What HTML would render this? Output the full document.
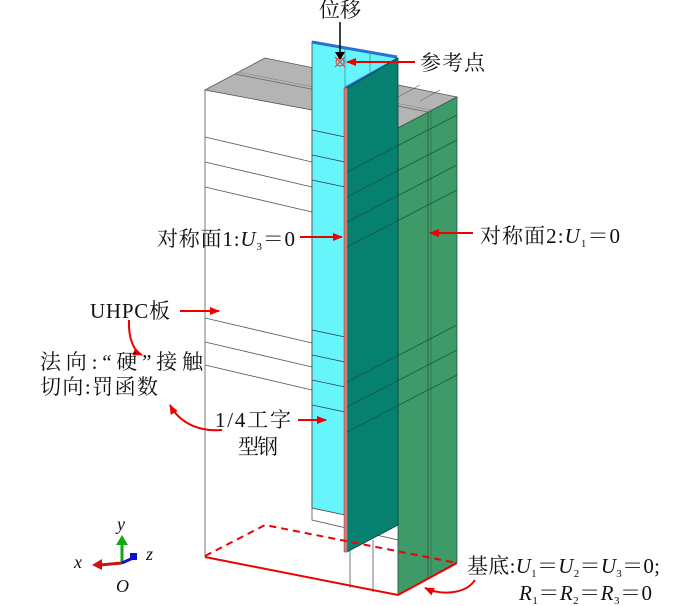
<!DOCTYPE html>
<html><head><meta charset="utf-8"><style>
html,body{margin:0;padding:0;background:#fff;}
svg{display:block;}
text{font-family:"Liberation Serif","Noto Serif CJK SC","Noto Sans CJK SC",serif;fill:#111;}
</style></head><body>
<svg width="700" height="606" viewBox="0 0 700 606" xmlns="http://www.w3.org/2000/svg">
<defs>
<marker id="ar" markerWidth="10" markerHeight="8" refX="9" refY="4" orient="auto" markerUnits="userSpaceOnUse"><path d="M0,0 L10,4 L0,8 Z" fill="#e00"/></marker>
<marker id="ak" markerWidth="8" markerHeight="10" refX="7" refY="5" orient="auto" markerUnits="userSpaceOnUse"><path d="M0,0 L8,5 L0,10 Z" fill="#000"/></marker>
</defs>
<polygon points="205,90 265,58 457,97 398,128" fill="#b4b4b4" stroke="#555" stroke-width="0.8"/>
<line x1="235" y1="74" x2="428" y2="112" stroke="#666" stroke-width="0.8"/>
<line x1="238" y1="72" x2="431" y2="110" stroke="#888" stroke-width="0.6"/>
<line x1="420" y1="85" x2="398" y2="97" stroke="#666" stroke-width="0.6"/>
<line x1="440" y1="90" x2="420" y2="101" stroke="#666" stroke-width="0.6"/>
<polygon points="205,90 312,110 312,520 398,540 398,595 205,557" fill="#fff" stroke="#555" stroke-width="0.8"/>
<g stroke="#555" stroke-width="0.8">
<line x1="205" y1="137" x2="312" y2="162"/>
<line x1="205" y1="162" x2="312" y2="187"/>
<line x1="205" y1="187" x2="312" y2="212"/>
<line x1="205" y1="318" x2="312" y2="343"/>
<line x1="205" y1="342" x2="312" y2="367"/>
<line x1="205" y1="365" x2="312" y2="390"/>
<line x1="350" y1="545" x2="350" y2="588"/>
<line x1="373" y1="540" x2="373" y2="592"/>
</g>
<polygon points="312,42 397,58 397,60 345,88 345,515 312,508" fill="#66f5fb" stroke="#444" stroke-width="0.8"/>
<line x1="312" y1="42" x2="397" y2="57" stroke="#2a70d0" stroke-width="3"/>
<line x1="345" y1="88" x2="397" y2="59" stroke="#2a70d0" stroke-width="2.5"/>
<line x1="345" y1="47" x2="345" y2="88" stroke="#3a8a8a" stroke-width="0.7"/>
<line x1="370" y1="52" x2="370" y2="73" stroke="#3a8a8a" stroke-width="0.7"/>
<g stroke="#336" stroke-width="0.7">
<line x1="312" y1="130" x2="345" y2="137"/>
<line x1="312" y1="155" x2="345" y2="162"/>
<line x1="312" y1="180" x2="345" y2="187"/>
<line x1="312" y1="330" x2="345" y2="337"/>
<line x1="312" y1="355" x2="345" y2="362"/>
<line x1="312" y1="380" x2="345" y2="387"/>
<line x1="312" y1="405" x2="345" y2="412"/>
</g>
<polygon points="398,128 457,97 457,562 398,595" fill="#3f9a6a" stroke="#2a5a40" stroke-width="0.8"/>
<line x1="428" y1="112" x2="428" y2="578" stroke="#2a6a45" stroke-width="1"/>
<line x1="431" y1="111" x2="431" y2="577" stroke="#2a6a45" stroke-width="0.6"/>
<polygon points="347,88 398,58 398,525 347,552" fill="#06806f" stroke="#044" stroke-width="0.8"/>
<rect x="344" y="88" width="3.5" height="464" fill="#d07a7a" stroke="#844" stroke-width="0.5"/>
<g stroke="#1a5a3a" stroke-width="0.8">
<line x1="347" y1="172" x2="457" y2="115"/>
<line x1="347" y1="197" x2="457" y2="140"/>
<line x1="347" y1="222" x2="457" y2="165"/>
<line x1="347" y1="247" x2="457" y2="190"/>
<line x1="347" y1="382" x2="457" y2="325"/>
<line x1="347" y1="407" x2="457" y2="350"/>
<line x1="347" y1="432" x2="457" y2="375"/>
</g>
<line x1="205" y1="557" x2="398" y2="595" stroke="#e00" stroke-width="2"/>
<line x1="398" y1="595" x2="457" y2="563" stroke="#e00" stroke-width="2"/>
<polyline points="205,556 265,525 457,563" fill="none" stroke="#e00" stroke-width="2" stroke-dasharray="7,5"/>
<circle cx="340" cy="62" r="4" fill="none" stroke="#e33" stroke-width="1"/>
<line x1="335" y1="57" x2="345" y2="67" stroke="#e33"/><line x1="345" y1="57" x2="335" y2="67" stroke="#e33"/>
<line x1="340" y1="22" x2="340" y2="59" stroke="#000" stroke-width="1.5" marker-end="url(#ak)"/>
<g stroke="#e00" stroke-width="2" fill="none">
<line x1="415" y1="62" x2="347" y2="62" marker-end="url(#ar)"/>
<line x1="300" y1="237" x2="342" y2="237" marker-end="url(#ar)"/>
<line x1="473" y1="233" x2="430" y2="233" marker-end="url(#ar)"/>
<line x1="180" y1="311" x2="219" y2="311" marker-end="url(#ar)"/>
<line x1="298" y1="420" x2="326" y2="420" marker-end="url(#ar)"/>
<path d="M129,320 C128,340 135,352 142,355" marker-end="url(#ar)"/>
<path d="M222,430 C195,432 178,420 170,405" marker-end="url(#ar)"/>
<path d="M475,580 C465,595 440,595 425,588" marker-end="url(#ar)"/>
</g>
<g font-size="21">
<text x="319" y="17" textLength="42" lengthAdjust="spacing">位移</text>
<text x="420" y="70" textLength="65" lengthAdjust="spacing">参考点</text>
<text x="157" y="246" textLength="138" lengthAdjust="spacing">对称面1:<tspan font-style="italic">U</tspan><tspan font-size="11" dy="4">3</tspan><tspan dy="-4">＝0</tspan></text>
<text x="480" y="243" textLength="140" lengthAdjust="spacing">对称面2:<tspan font-style="italic">U</tspan><tspan font-size="11" dy="4">1</tspan><tspan dy="-4">＝0</tspan></text>
<text x="90" y="318" textLength="80" lengthAdjust="spacing">UHPC板</text>
<text x="40" y="369" textLength="163" lengthAdjust="spacing">法向:“硬”接触</text>
<text x="40" y="394" textLength="118" lengthAdjust="spacing">切向:罚函数</text>
<text x="215" y="427" textLength="76" lengthAdjust="spacing">1/4工字</text>
<text x="238" y="454" textLength="40" lengthAdjust="spacing">型钢</text>
<text x="467" y="573" textLength="193" lengthAdjust="spacing">基底:<tspan font-style="italic">U</tspan><tspan font-size="11" dy="4">1</tspan><tspan dy="-4">＝</tspan><tspan font-style="italic">U</tspan><tspan font-size="11" dy="4">2</tspan><tspan dy="-4">＝</tspan><tspan font-style="italic">U</tspan><tspan font-size="11" dy="4">3</tspan><tspan dy="-4">＝0;</tspan></text>
<text x="519" y="600" textLength="133" lengthAdjust="spacing"><tspan font-style="italic">R</tspan><tspan font-size="11" dy="4">1</tspan><tspan dy="-4">＝</tspan><tspan font-style="italic">R</tspan><tspan font-size="11" dy="4">2</tspan><tspan dy="-4">＝</tspan><tspan font-style="italic">R</tspan><tspan font-size="11" dy="4">3</tspan><tspan dy="-4">＝0</tspan></text>
</g>
<line x1="122" y1="563" x2="122" y2="543" stroke="#1a1" stroke-width="3"/>
<polygon points="116,545 128,545 122,535" fill="#1a1"/>
<line x1="122" y1="563" x2="100" y2="565" stroke="#c11" stroke-width="3"/>
<polygon points="102,559 102,570 92,565" fill="#c11"/>
<line x1="122" y1="563" x2="133" y2="558" stroke="#11c" stroke-width="3"/>
<rect x="130" y="553" width="7" height="7" fill="#11c"/>
<g font-size="18" font-style="italic">
<text x="117" y="530">y</text>
<text x="74" y="568">x</text>
<text x="146" y="560">z</text>
<text x="116" y="592">O</text>
</g>
</svg>
</body></html>
